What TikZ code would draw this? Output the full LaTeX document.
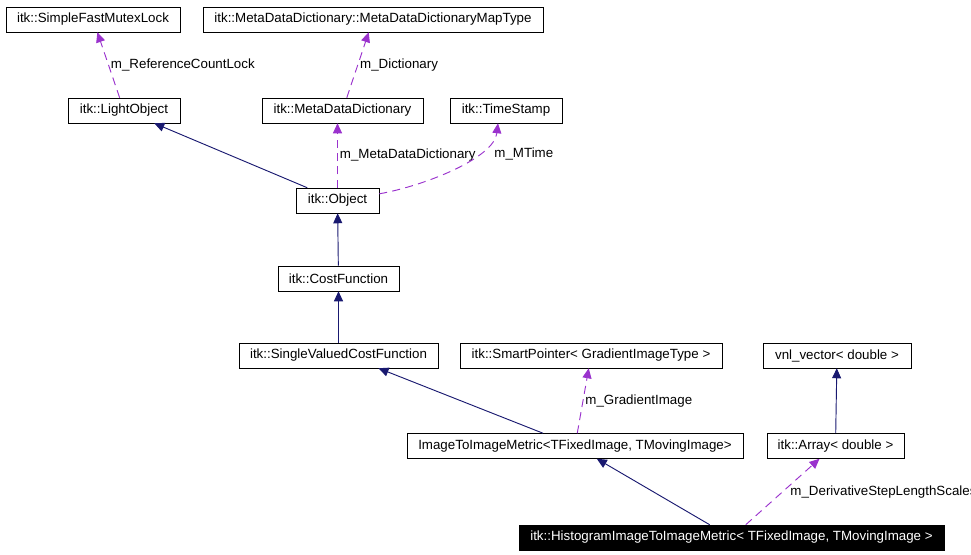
\documentclass[tikz,border=0pt]{standalone}
\usepackage{fontspec}
\setmainfont{Liberation Sans}
\usepackage{tikz}
\usetikzlibrary{arrows.meta, positioning}
\definecolor{itknavy}{RGB}{25,25,112}
\definecolor{itkpurple}{RGB}{154,50,205}

\begin{document}
\begin{tikzpicture}[x=0.75pt, y=-0.75pt,
    cls/.style={draw, font=\fontsize{10pt}{12pt}\selectfont, minimum height=18.75pt, inner xsep=0pt, inner ysep=0pt},
    inherit/.style={-{Triangle[length=7.5pt, width=6.75pt]}, itknavy, line width=0.7pt},
    member/.style={-{Triangle[length=7.5pt, width=6.75pt]}, itkpurple, line width=0.7pt, dash pattern=on 6pt off 4pt},
    lbl/.style={font=\fontsize{10pt}{12pt}\selectfont, text=black, inner sep=1.5pt}]
    \useasboundingbox (0,0) rectangle (971,555);

    % Top row
    \node[cls, minimum width=130.5pt] (lock) at (93,19.5) {itk::SimpleFastMutexLock};
    \node[cls, minimum width=255pt] (maptype) at (373,19.5) {itk::MetaDataDictionary::MetaDataDictionaryMapType};

    % Second row
    \node[cls, minimum width=84pt] (light) at (124,110.5) {itk::LightObject};
    \node[cls, minimum width=120.75pt] (mdd) at (342.5,110.5) {itk::MetaDataDictionary};
    \node[cls, minimum width=84pt] (stamp) at (506,110.5) {itk::TimeStamp};

    % Base classes
    \node[cls, minimum width=62.25pt] (object) at (337.5,200.5) {itk::Object};
    \node[cls, minimum width=90.75pt] (cost) at (338.5,278.5) {itk::CostFunction};
    \node[cls, minimum width=149.25pt] (svcf) at (338.5,355.5) {itk::SingleValuedCostFunction};
    \node[cls, minimum width=196.5pt] (smart) at (591,355.5) {itk::SmartPointer< GradientImageType >};
    \node[cls, minimum width=111pt] (vnl) at (837,355.5) {vnl\_vector< double >};
    \node[cls, minimum width=252pt] (itoi) at (575,446) {ImageToImageMetric<TFixedImage, TMovingImage>};
    \node[cls, minimum width=102.75pt] (array) at (835.5,446) {itk::Array< double >};

    % This class
    \node[cls, minimum width=318.75pt, fill=black, text=white] (hist) at (731.5,537.5)
          {itk::HistogramImageToImageMetric< TFixedImage, TMovingImage >};

    % Members
    \draw[member] (light) -- (lock)
          node[lbl, midway, right] {m\_ReferenceCountLock};
    \draw[member] (mdd) -- (maptype)
          node[lbl, midway, right] {m\_Dictionary};
    \draw[member] (object) -- (object |- mdd.south)
          node[lbl, midway, right] {m\_MetaDataDictionary};
    \draw[member] ([yshift=5pt]object.east) .. controls +(45,-8) and +(-4,35) .. ([xshift=-6pt]stamp.south)
          node[lbl, anchor=west] at (492,154) {m\_MTime};
    \draw[member] (itoi) -- (smart)
          node[lbl, midway, right] {m\_GradientImage};
    \draw[member] (hist) -- ([xshift=-12pt]array.south)
          node[lbl, anchor=west] at (788,492) {m\_DerivativeStepLengthScales};

    % Inheritance
    \draw[inherit] (object) -- (light);
    \draw[inherit] (cost) -- (object);
    \draw[inherit] (svcf) -- (cost);
    \draw[inherit] ([xshift=-24pt]itoi.north) -- ([xshift=30pt]svcf.south);
    \draw[inherit] (hist) -- (itoi);
    \draw[inherit] (array) -- (vnl);
\end{tikzpicture}
\end{document}
